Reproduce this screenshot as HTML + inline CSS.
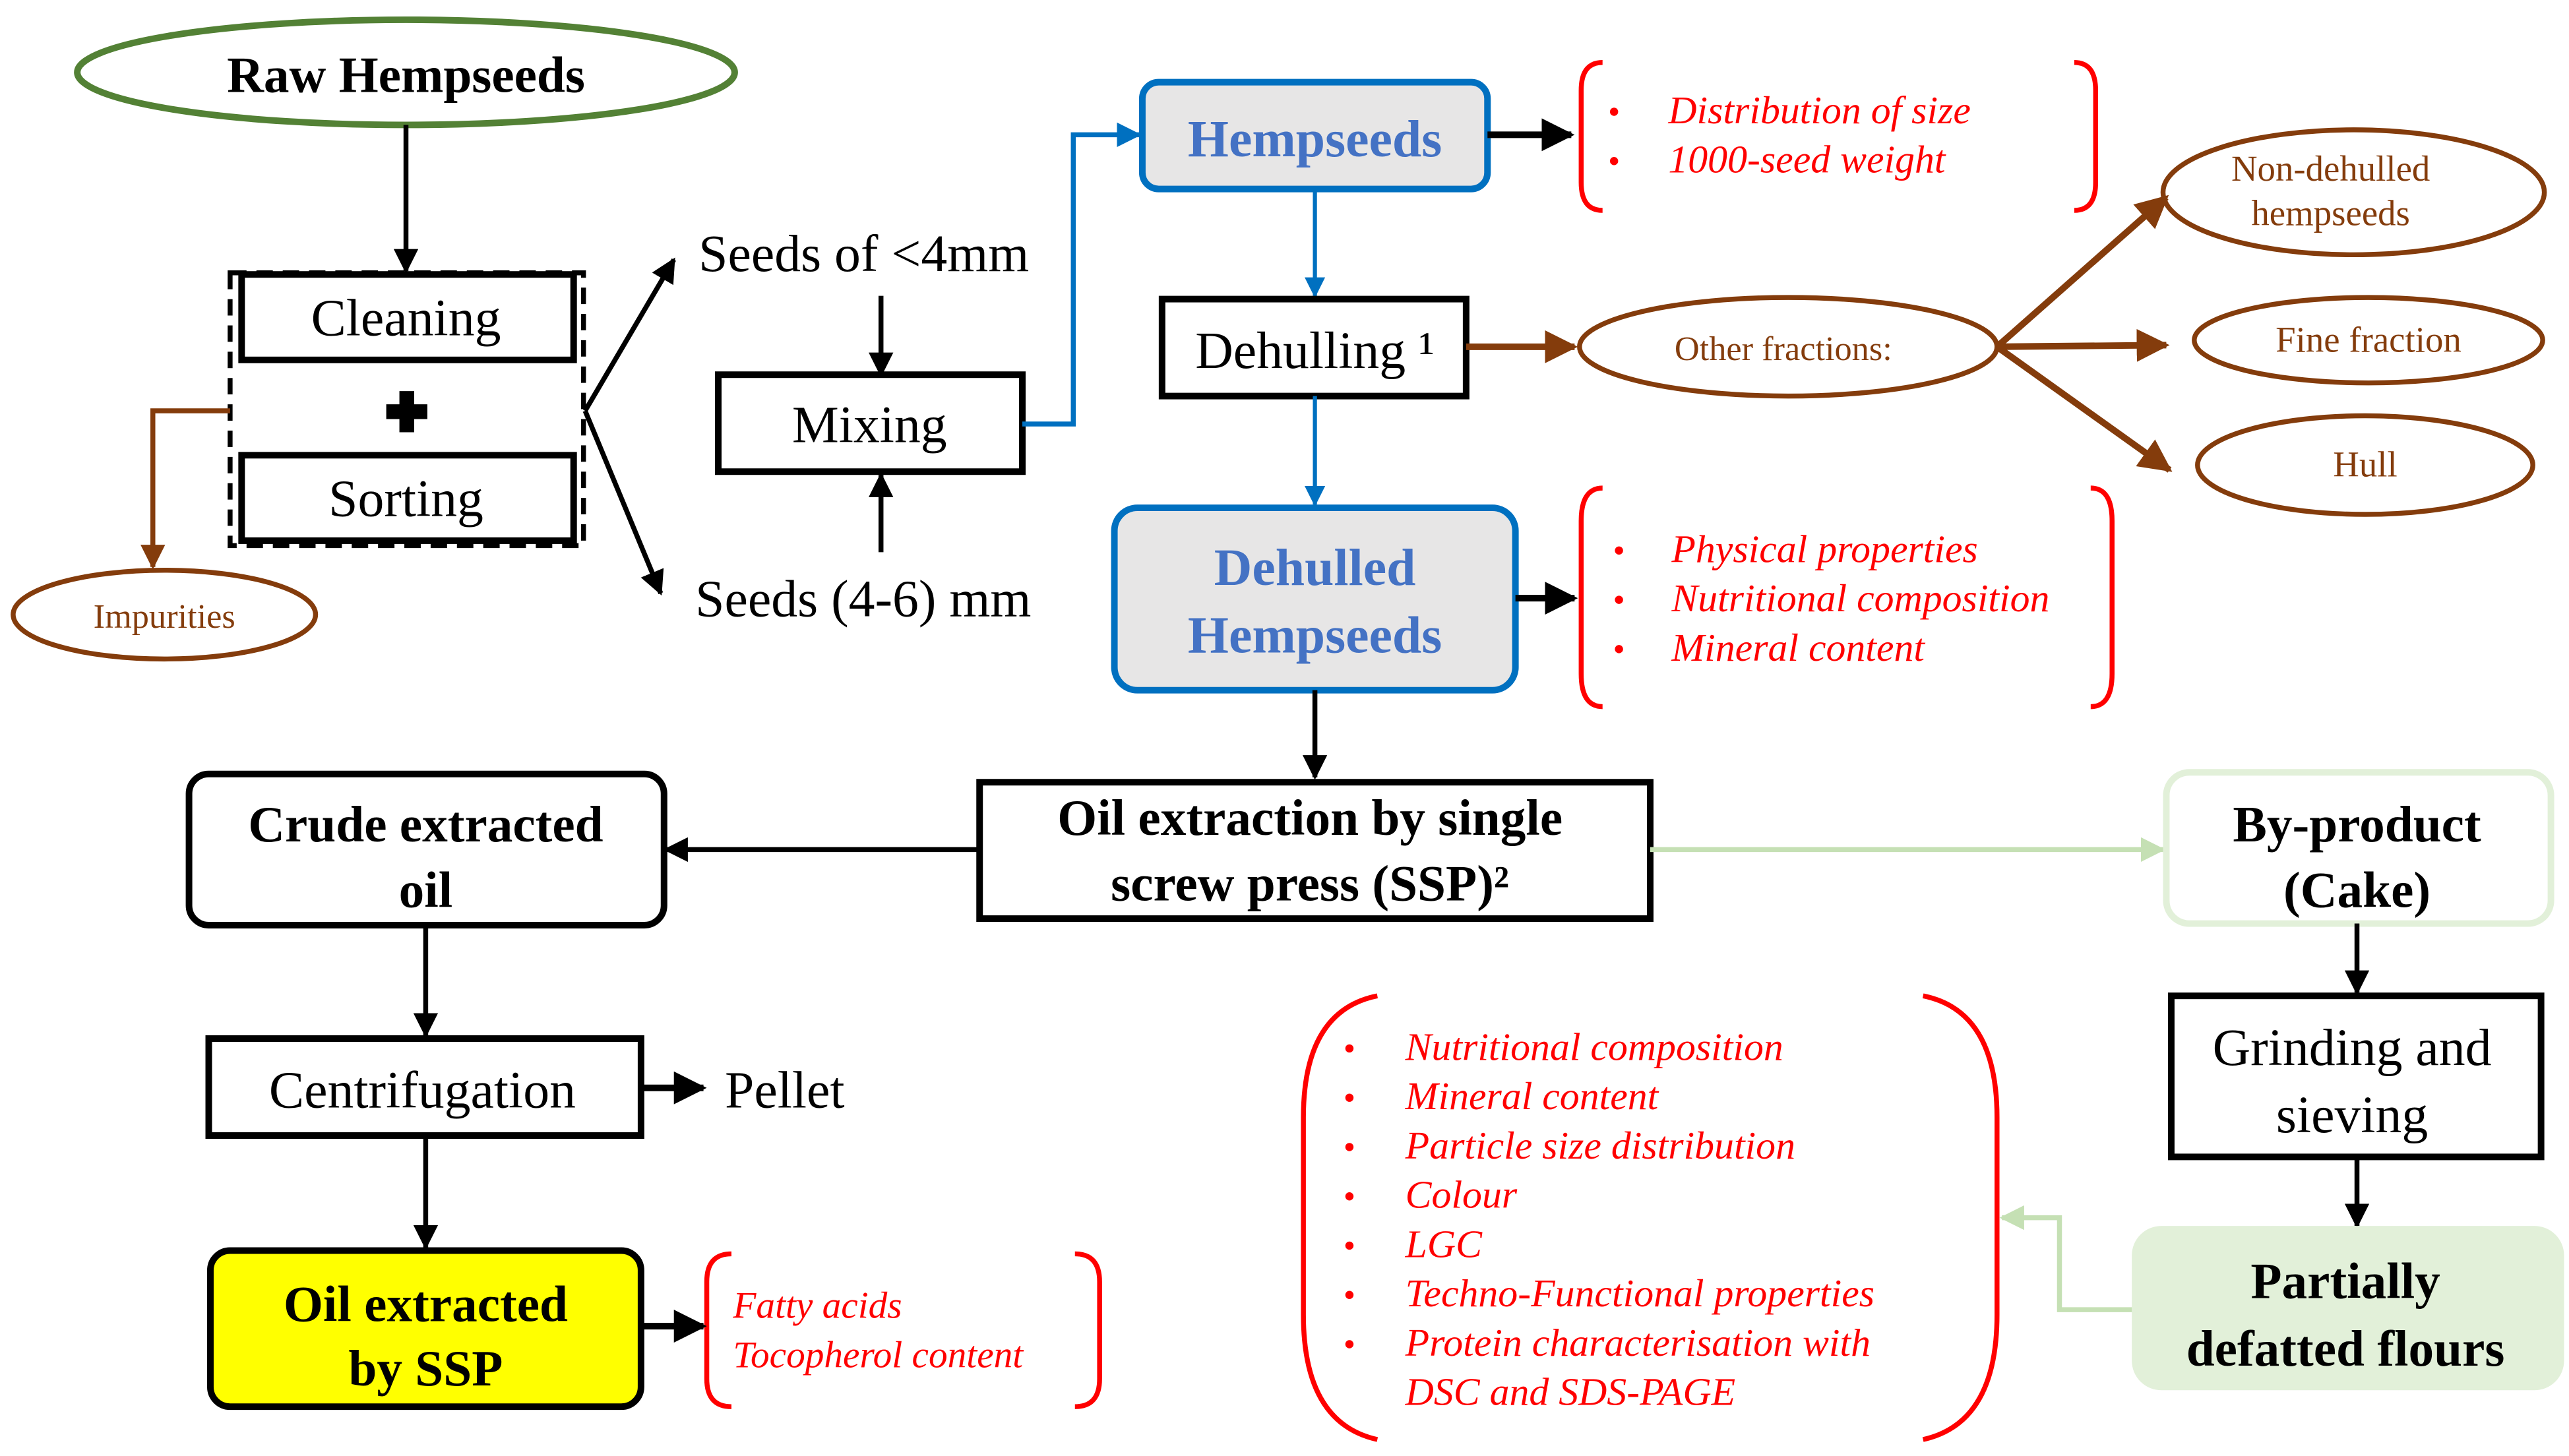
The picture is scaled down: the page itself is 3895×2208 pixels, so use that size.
<!DOCTYPE html>
<html><head><meta charset="utf-8"><style>html,body{margin:0;padding:0;background:#fff}svg{display:block}</style></head>
<body>
<svg xmlns="http://www.w3.org/2000/svg" width="3895" height="2208" viewBox="0 0 1563 886" font-family="Liberation Serif, serif">
<defs>
<marker id="ak" viewBox="0 0 10 10" refX="9" refY="5" markerWidth="5" markerHeight="5" orient="auto-start-reverse" markerUnits="strokeWidth"><path d="M0,0L10,5L0,10z" fill="#000"/></marker>
<marker id="ab" viewBox="0 0 10 10" refX="9" refY="5" markerWidth="5" markerHeight="5" orient="auto" markerUnits="strokeWidth"><path d="M0,0L10,5L0,10z" fill="#0070C0"/></marker>
<marker id="ar" viewBox="0 0 10 10" refX="9" refY="5" markerWidth="5" markerHeight="5" orient="auto" markerUnits="strokeWidth"><path d="M0,0L10,5L0,10z" fill="#843C0C"/></marker>
<marker id="ag" viewBox="0 0 10 10" refX="9" refY="5" markerWidth="5" markerHeight="5" orient="auto" markerUnits="strokeWidth"><path d="M0,0L10,5L0,10z" fill="#C5E0B4"/></marker>
</defs>
<g fill="none" stroke-width="3">
<ellipse cx="247" cy="44" rx="200" ry="32" stroke="#538135" stroke-width="4"/>
<line x1="247" y1="76" x2="247" y2="165" stroke="#000" marker-end="url(#ak)"/>
<rect x="140" y="166" width="215" height="166" stroke="#000" stroke-dasharray="10,6"/>
<rect x="147" y="167" width="202" height="52" stroke="#000" stroke-width="4"/>
<rect x="147" y="277" width="202" height="52" stroke="#000" stroke-width="4"/>
<path d="M140,250H93V345" stroke="#843C0C" marker-end="url(#ar)"/>
<ellipse cx="100" cy="374" rx="92" ry="27" stroke="#843C0C"/>
<line x1="356" y1="250" x2="410" y2="158" stroke="#000" marker-end="url(#ak)"/>
<line x1="356" y1="250" x2="402" y2="361" stroke="#000" marker-end="url(#ak)"/>
<line x1="536" y1="180" x2="536" y2="228" stroke="#000" marker-end="url(#ak)"/>
<line x1="536" y1="336" x2="536" y2="289" stroke="#000" marker-end="url(#ak)"/>
<rect x="437" y="228" width="185" height="59" stroke="#000" stroke-width="4"/>
<path d="M622,258H653V82H693" stroke="#0070C0" marker-end="url(#ab)"/>
<rect x="695" y="50" width="210" height="65" rx="10" fill="#E7E6E6" stroke="#0070C0" stroke-width="4"/>
<line x1="905" y1="82" x2="956" y2="82" stroke="#000" stroke-width="4" marker-end="url(#ak)"/>
<line x1="800" y1="115" x2="800" y2="180" stroke="#0070C0" stroke-width="2.5" marker-end="url(#ab)"/>
<rect x="707" y="182" width="185" height="59" stroke="#000" stroke-width="4"/>
<line x1="800" y1="241" x2="800" y2="307" stroke="#0070C0" stroke-width="2.5" marker-end="url(#ab)"/>
<rect x="678" y="309" width="244" height="111" rx="14" fill="#E7E6E6" stroke="#0070C0" stroke-width="4"/>
<line x1="922" y1="364" x2="958" y2="364" stroke="#000" stroke-width="4" marker-end="url(#ak)"/>
<line x1="892" y1="211" x2="958" y2="211" stroke="#843C0C" stroke-width="4" marker-end="url(#ar)"/>
<ellipse cx="1088" cy="211" rx="127" ry="30" stroke="#843C0C"/>
<line x1="1215" y1="211" x2="1318" y2="120" stroke="#843C0C" stroke-width="4" marker-end="url(#ar)"/>
<line x1="1215" y1="211" x2="1318" y2="210" stroke="#843C0C" stroke-width="4" marker-end="url(#ar)"/>
<line x1="1215" y1="211" x2="1320" y2="286" stroke="#843C0C" stroke-width="4" marker-end="url(#ar)"/>
<ellipse cx="1432" cy="117" rx="116" ry="38" stroke="#843C0C"/>
<ellipse cx="1441" cy="207" rx="106" ry="26" stroke="#843C0C"/>
<ellipse cx="1439" cy="283" rx="102" ry="30" stroke="#843C0C"/>
<g stroke="#FF0000">
<path d="M975,38Q962,38 962,55V111Q962,128 975,128"/>
<path d="M1262,38Q1275,38 1275,55V111Q1275,128 1262,128"/>
<path d="M975,297Q962,297 962,317V410Q962,430 975,430"/>
<path d="M1272,297Q1285,297 1285,317V410Q1285,430 1272,430"/>
<path d="M838,606Q793,615 793,680V800Q793,866 838,876"/>
<path d="M1170,606Q1215,615 1215,680V800Q1215,866 1170,876"/>
<path d="M445,763Q430,763 430,780V839Q430,856 445,856"/>
<path d="M654,763Q669,763 669,780V839Q669,856 654,856"/>
</g>
<line x1="800" y1="420" x2="800" y2="473" stroke="#000" marker-end="url(#ak)"/>
<rect x="596" y="476" width="408" height="83" stroke="#000" stroke-width="4"/>
<line x1="596" y1="517" x2="405" y2="517" stroke="#000" marker-end="url(#ak)"/>
<rect x="115" y="471" width="289" height="92" rx="12" stroke="#000" stroke-width="4"/>
<line x1="1004" y1="517" x2="1316" y2="517" stroke="#C5E0B4" marker-end="url(#ag)"/>
<rect x="1318" y="470" width="234" height="92" rx="14" stroke="#E2F0D9" stroke-width="4"/>
<line x1="1434" y1="562" x2="1434" y2="604" stroke="#000" marker-end="url(#ak)"/>
<rect x="1321" y="606" width="225" height="98" stroke="#000" stroke-width="4"/>
<line x1="1434" y1="704" x2="1434" y2="746" stroke="#000" marker-end="url(#ak)"/>
<rect x="1297" y="746" width="263" height="100" rx="18" fill="#E2F0D9"/>
<path d="M1297,797H1253V741H1218" stroke="#C5E0B4" marker-end="url(#ag)"/>
<line x1="259" y1="563" x2="259" y2="630" stroke="#000" marker-end="url(#ak)"/>
<rect x="127" y="632" width="263" height="59" stroke="#000" stroke-width="4"/>
<line x1="390" y1="662" x2="428" y2="662" stroke="#000" stroke-width="4" marker-end="url(#ak)"/>
<line x1="259" y1="691" x2="259" y2="759" stroke="#000" marker-end="url(#ak)"/>
<rect x="128" y="761" width="262" height="95" rx="12" fill="#FFFF00" stroke="#000" stroke-width="4"/>
<line x1="390" y1="807" x2="428" y2="807" stroke="#000" stroke-width="4" marker-end="url(#ak)"/>
</g>
<path d="M243,238h9v8h8v9h-8v8h-9v-8h-8v-9h8z" fill="#000"/>
<g text-anchor="middle" fill="#000">
<text x="247" y="56" font-size="31" font-weight="bold">Raw Hempseeds</text>
<text x="247" y="204" font-size="32">Cleaning</text>
<text x="247" y="314" font-size="32">Sorting</text>
<text x="100" y="382" font-size="21" fill="#843C0C">Impurities</text>
<text x="529" y="269" font-size="32">Mixing</text>
<text x="800" y="95" font-size="32" font-weight="bold" fill="#4472C4">Hempseeds</text>
<text x="800" y="224" font-size="32">Dehulling ¹</text>
<text x="800" y="356" font-size="32" font-weight="bold" fill="#4472C4">Dehulled</text>
<text x="800" y="397" font-size="32" font-weight="bold" fill="#4472C4">Hempseeds</text>
<text x="1085" y="219" font-size="21" fill="#843C0C">Other fractions:</text>
<text x="1418" y="110" font-size="22" fill="#843C0C">Non-dehulled</text>
<text x="1418" y="137" font-size="22" fill="#843C0C">hempseeds</text>
<text x="1441" y="214" font-size="22" fill="#843C0C">Fine fraction</text>
<text x="1439" y="290" font-size="22" fill="#843C0C">Hull</text>
<text x="797" y="508" font-size="31" font-weight="bold">Oil extraction by single</text>
<text x="797" y="548" font-size="31" font-weight="bold">screw press (SSP)²</text>
<text x="259" y="512" font-size="31" font-weight="bold">Crude extracted</text>
<text x="259" y="552" font-size="31" font-weight="bold">oil</text>
<text x="1434" y="512" font-size="31" font-weight="bold">By-product</text>
<text x="1434" y="552" font-size="31" font-weight="bold">(Cake)</text>
<text x="1431" y="648" font-size="32">Grinding and</text>
<text x="1431" y="689" font-size="32">sieving</text>
<text x="1427" y="790" font-size="31" font-weight="bold">Partially</text>
<text x="1427" y="831" font-size="31" font-weight="bold">defatted flours</text>
<text x="257" y="674" font-size="32">Centrifugation</text>
<text x="259" y="804" font-size="31" font-weight="bold">Oil extracted</text>
<text x="259" y="843" font-size="31" font-weight="bold">by SSP</text>
</g>
<g font-size="32" fill="#000">
<text x="425" y="165">Seeds of &lt;4mm</text>
<text x="423" y="375">Seeds (4-6) mm</text>
<text x="441" y="674">Pellet</text>
</g>
<g font-size="24" font-style="italic" fill="#FF0000">
<text x="1015" y="75">Distribution of size</text>
<text x="1015" y="105">1000-seed weight</text>
<text x="1017" y="342">Physical properties</text>
<text x="1017" y="372">Nutritional composition</text>
<text x="1017" y="402">Mineral content</text>
<text x="855" y="645">Nutritional composition</text>
<text x="855" y="675">Mineral content</text>
<text x="855" y="705">Particle size distribution</text>
<text x="855" y="735">Colour</text>
<text x="855" y="765">LGC</text>
<text x="855" y="795">Techno-Functional properties</text>
<text x="855" y="825">Protein characterisation with</text>
<text x="855" y="855">DSC and SDS-PAGE</text>
<text x="446" y="802" font-size="23">Fatty acids</text>
<text x="446" y="832" font-size="23">Tocopherol content</text>
</g>
<g fill="#FF0000">
<circle cx="982" cy="68" r="2.5"/><circle cx="982" cy="98" r="2.5"/>
<circle cx="985" cy="335" r="2.5"/><circle cx="985" cy="365" r="2.5"/><circle cx="985" cy="395" r="2.5"/>
<circle cx="821" cy="638" r="2.5"/><circle cx="821" cy="668" r="2.5"/><circle cx="821" cy="698" r="2.5"/><circle cx="821" cy="728" r="2.5"/><circle cx="821" cy="758" r="2.5"/><circle cx="821" cy="788" r="2.5"/><circle cx="821" cy="818" r="2.5"/>
</g>
</svg>
</body></html>
